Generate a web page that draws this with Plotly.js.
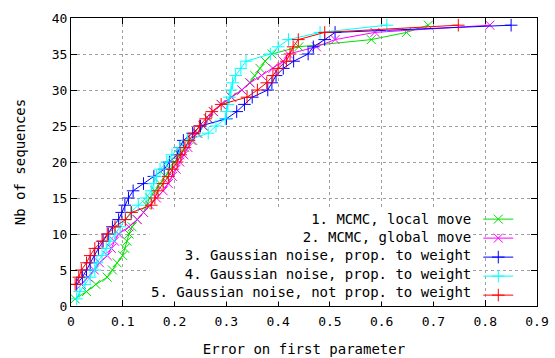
<!DOCTYPE html>
<html>
<head>
<meta charset="utf-8">
<script src="https://cdn.plot.ly/plotly-3.0.1.min.js"></script>
<style>html,body{margin:0;padding:0;background:#fff;}#plot{width:555px;height:358px;}</style>
</head>
<body>
<div id="plot"></div>
<script>
const names = [
  "1. MCMC, local move",
  "2. MCMC, global move",
  "3. Gaussian noise, prop. to weight",
  "4. Gaussian noise, prop. to weight",
  "5. Gaussian noise, not prop. to weight"
];
const colors = ["#00e000", "#ff00ff", "#0000ff", "#00ffff", "#ff0000"];
const symbols = ["x-thin", "x-thin", "cross-thin", "cross-thin", "cross-thin"];

const s1y = [1,2,3,4,5,6,7,8,9,10,11,12,13,14,15,16,17,18,19,20,21,22,23,24,25,26,27,28,29,30,31,32,33,34,35,36,37,38,39];
const s1x = [0.008,0.03,0.048,0.07,0.08,0.089,0.1,0.104,0.108,0.112,0.118,0.128,0.14,0.146,0.152,0.162,0.172,0.182,0.192,0.2,0.21,0.22,0.232,0.245,0.256,0.266,0.275,0.29,0.31,0.33,0.345,0.355,0.365,0.375,0.388,0.44,0.58,0.648,0.69];

const s2y = [3,4,5,6,7,8,9,10,11,12,13,14,15,16,17,18,19,20,21,22,23,24,25,26,27,28,29,30,31,32,33,34,35,36,37,38,39];
const s2x = [0.02,0.033,0.045,0.055,0.07,0.078,0.084,0.092,0.112,0.128,0.14,0.152,0.165,0.178,0.188,0.196,0.203,0.21,0.218,0.226,0.235,0.243,0.255,0.265,0.275,0.29,0.31,0.33,0.346,0.368,0.39,0.41,0.42,0.474,0.51,0.587,0.809];

const s3y = [3,4,5,6,7,8,9,10,11,12,13,14,15,16,17,18,19,20,21,22,23,24,25,26,27,28,29,30,31,32,33,34,35,36,37,38,39];
const s3x = [0.011,0.022,0.03,0.037,0.045,0.053,0.062,0.072,0.08,0.092,0.098,0.104,0.111,0.12,0.14,0.16,0.18,0.19,0.205,0.21,0.217,0.235,0.25,0.3,0.32,0.335,0.35,0.38,0.388,0.396,0.41,0.43,0.458,0.468,0.49,0.51,0.85];

const s4y = [1,2,3,4,5,6,7,8,9,10,11,12,13,14,15,16,17,18,19,20,21,22,23,24,25,26,27,28,29,30,31,32,33,34,35,36,37,38,39];
const s4x = [0.011,0.017,0.027,0.037,0.046,0.05,0.06,0.068,0.075,0.085,0.095,0.105,0.115,0.13,0.145,0.155,0.16,0.165,0.172,0.185,0.195,0.21,0.225,0.265,0.28,0.298,0.3,0.303,0.306,0.309,0.312,0.318,0.328,0.338,0.385,0.40,0.42,0.481,0.61];

const s5y = [3,4,5,6,7,8,9,10,11,12,13,14,15,16,17,18,19,20,21,22,23,24,25,26,27,28,29,30,31,32,33,34,35,36,37,38,39];
const s5x = [0.008,0.015,0.02,0.03,0.037,0.046,0.06,0.07,0.085,0.105,0.117,0.155,0.162,0.168,0.178,0.188,0.196,0.205,0.212,0.22,0.228,0.238,0.248,0.26,0.272,0.29,0.34,0.36,0.378,0.39,0.40,0.416,0.423,0.429,0.439,0.49,0.748];

const xs = [s1x, s2x, s3x, s4x, s5x];
const ys = [s1y, s2y, s3y, s4y, s5y];
const xTicks = [0,0.1,0.2,0.3,0.4,0.5,0.6,0.7,0.8,0.9];
const yTicks = [0,5,10,15,20,25,30,35,40];

const FONT = "DejaVu Sans Mono, Liberation Mono, monospace";

const traces = xs.map((x, i) => ({
  type: "scatter",
  mode: "lines+markers",
  x: x,
  y: ys[i],
  name: "",
  line: {color: colors[i], width: 1},
  marker: {symbol: symbols[i], size: 9, color: colors[i], line: {color: colors[i], width: 1}},
  showlegend: true
}));

const layout = {
  width: 555,
  height: 358,
  margin: {l: 71, r: 18, t: 18, b: 52},
  paper_bgcolor: "#fff",
  plot_bgcolor: "#fff",
  font: {family: FONT, size: 14, color: "#000"},
  showlegend: true,
  legend: {
    x: 0.874, xanchor: "left",
    y: 0.352, yanchor: "top",
    bgcolor: "rgba(0,0,0,0)",
    font: {family: FONT, size: 10},
    traceorder: "normal"
  },
  xaxis: {
    range: [0, 0.9],
    tickvals: xTicks,
    ticktext: xTicks.map(v => String(v)),
    ticks: "inside", ticklen: 6, tickcolor: "#000",
    showline: true, linecolor: "#000", linewidth: 1, mirror: "ticks",
    showgrid: true, gridcolor: "#a0a0a0", griddash: "dot", gridwidth: 1,
    zeroline: false,
    tickfont: {family: FONT, size: 13},
    ticklabelstandoff: 3,
    title: {text: "Error on first parameter", font: {family: FONT, size: 14}, standoff: 16}
  },
  yaxis: {
    range: [0, 40],
    tickvals: yTicks,
    ticks: "inside", ticklen: 6, tickcolor: "#000",
    showline: true, linecolor: "#000", linewidth: 1, mirror: "ticks",
    showgrid: true, gridcolor: "#a0a0a0", griddash: "dot", gridwidth: 1,
    zeroline: false,
    tickfont: {family: FONT, size: 13},
    title: {text: "Nb of sequences", font: {family: FONT, size: 14}, standoff: 22}
  },
  annotations: [{
    xref: "paper", yref: "paper",
    x: 0.862, xanchor: "right",
    y: 0.174, yanchor: "middle",
    align: "right",
    showarrow: false,
    bgcolor: "#fff",
    font: {family: FONT, size: 14, color: "#000"},
    text: names.join("<br>")
  }]
};

Plotly.newPlot("plot", traces, layout, {displayModeBar: false, staticPlot: true});
</script>
</body>
</html>
